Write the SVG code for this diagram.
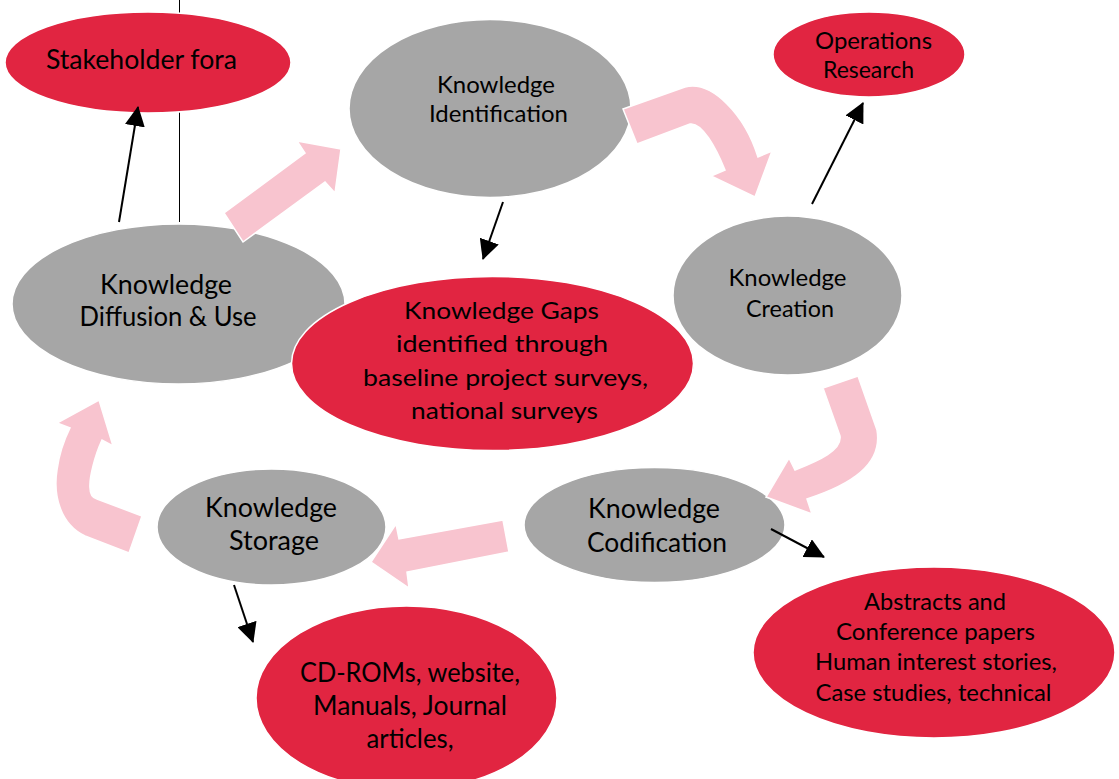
<svg xmlns="http://www.w3.org/2000/svg" width="1119" height="779" viewBox="0 0 1119 779">
  <style>
    .grey { fill: #a6a6a6; stroke: #ffffff; stroke-width: 1.5; }
    .red { fill: #e12541; stroke: #ffffff; stroke-width: 1.5; }
    .flow { fill: #f8c4cf; stroke: #ffffff; stroke-width: 1.5; stroke-linejoin: miter; }
    .link { stroke: #000000; stroke-width: 2; fill: none; marker-end: url(#head); }
    text { font-family: Lato, "Open Sans", "Liberation Sans", sans-serif; fill: #000000; text-anchor: middle; }
    .m { font-size: 24px; }
    .l { font-size: 26px; }
  </style>
  <defs>
    <marker id="head" markerUnits="userSpaceOnUse" markerWidth="20" markerHeight="20" refX="19" refY="10" orient="auto">
      <path d="M0,0 L20,10 L0,20 Z" fill="#000000"/>
    </marker>
  </defs>

  <!-- thin guide line behind the top-left nodes -->
  <line x1="179.5" y1="0" x2="179.5" y2="222" stroke="#000000" stroke-width="1"/>

  <g id="stakeholder-fora">
    <ellipse class="red" cx="148" cy="62.5" rx="143" ry="50.5"/>
    <text class="l" x="141.5" y="69" textLength="191" lengthAdjust="spacingAndGlyphs">Stakeholder fora</text>
  </g>

  <g id="knowledge-diffusion">
    <ellipse class="grey" cx="178.5" cy="304" rx="166.5" ry="80"/>
    <text class="l" x="166" y="294" textLength="132" lengthAdjust="spacingAndGlyphs">Knowledge</text>
    <text class="l" x="168" y="326" textLength="177" lengthAdjust="spacingAndGlyphs">Diffusion &amp; Use</text>
  </g>

  <g id="knowledge-identification">
    <ellipse class="grey" cx="490" cy="108.5" rx="141" ry="89"/>
    <text class="m" x="496" y="92.5" textLength="118" lengthAdjust="spacingAndGlyphs">Knowledge</text>
    <text class="m" x="498.5" y="121.5" textLength="139" lengthAdjust="spacingAndGlyphs">Identification</text>
  </g>

  <g id="operations-research">
    <ellipse class="red" cx="869" cy="54.5" rx="96" ry="42.5"/>
    <text class="m" x="873.5" y="49" textLength="117" lengthAdjust="spacingAndGlyphs">Operations</text>
    <text class="m" x="868.5" y="78" textLength="91" lengthAdjust="spacingAndGlyphs">Research</text>
  </g>

  <g id="knowledge-creation">
    <ellipse class="grey" cx="787.5" cy="295.5" rx="114.5" ry="79.5"/>
    <text class="m" x="787.5" y="286" textLength="118" lengthAdjust="spacingAndGlyphs">Knowledge</text>
    <text class="m" x="790" y="317" textLength="88" lengthAdjust="spacingAndGlyphs">Creation</text>
  </g>

  <g id="knowledge-gaps">
    <ellipse class="red" cx="492.5" cy="363.5" rx="201" ry="87"/>
    <text class="m" x="501.5" y="319" textLength="195" lengthAdjust="spacingAndGlyphs">Knowledge Gaps</text>
    <text class="m" x="502" y="352" textLength="212" lengthAdjust="spacingAndGlyphs">identified through</text>
    <text class="m" x="505.5" y="386" textLength="285" lengthAdjust="spacingAndGlyphs">baseline project surveys,</text>
    <text class="m" x="504.5" y="419" textLength="187" lengthAdjust="spacingAndGlyphs">national surveys</text>
  </g>

  <g id="knowledge-storage">
    <ellipse class="grey" cx="271.5" cy="527" rx="114.5" ry="58"/>
    <text class="l" x="271" y="517" textLength="132" lengthAdjust="spacingAndGlyphs">Knowledge</text>
    <text class="l" x="274" y="550" textLength="90" lengthAdjust="spacingAndGlyphs">Storage</text>
  </g>

  <g id="knowledge-codification">
    <ellipse class="grey" cx="654.5" cy="525" rx="130.5" ry="57.5"/>
    <text class="l" x="654" y="518" textLength="132" lengthAdjust="spacingAndGlyphs">Knowledge</text>
    <text class="l" x="657" y="552" textLength="140" lengthAdjust="spacingAndGlyphs">Codification</text>
  </g>

  <g id="storage-media">
    <ellipse class="red" cx="406.5" cy="698" rx="150.5" ry="92"/>
    <text class="l" x="410" y="682" textLength="220" lengthAdjust="spacingAndGlyphs">CD-ROMs, website,</text>
    <text class="l" x="410" y="715" textLength="194" lengthAdjust="spacingAndGlyphs">Manuals, Journal</text>
    <text class="l" x="410" y="748" textLength="87" lengthAdjust="spacingAndGlyphs">articles,</text>
  </g>

  <g id="codified-outputs">
    <ellipse class="red" cx="934" cy="652.5" rx="181" ry="85.5"/>
    <text class="m" x="935" y="610" textLength="142" lengthAdjust="spacingAndGlyphs">Abstracts and</text>
    <text class="m" x="935.5" y="640" textLength="199" lengthAdjust="spacingAndGlyphs">Conference papers</text>
    <text class="m" x="936" y="670" textLength="242" lengthAdjust="spacingAndGlyphs">Human interest stories,</text>
    <text class="m" x="933.5" y="701" textLength="236" lengthAdjust="spacingAndGlyphs">Case studies, technical</text>
  </g>

  <g id="connectors">
    <!-- cycle of knowledge stages -->
    <polygon class="flow" points="224,213 305,153 297,141 341,149 335,193 325,182 243,242"/>
    <path class="flow" d="M623,109 L685,87 C712,80 745,115 758,157 L772,151 L755,197 L711,176 L725,170 C716,148 702,122 690,124 L637,144 Z"/>
    <path class="flow" d="M823,388 L858,376 L877,430 C883,465 850,485 807,499 L812,514 L766,497 L789,458 L795,470 C820,460 842,450 840,436 Z"/>
    <polygon class="flow" points="503,520 399,539 396,524 371,562 409,588 407,572 509,552"/>
    <path class="flow" d="M142,516 L129,553 L85,536 C60,524 53,495 57,470 C59,455 64,440 70,428 L57,423 L99,400 L113,446 L102,440 C95,455 89,478 90,488 C90,495 93,498 97,499 Z"/>

    <!-- outputs of each stage -->
    <line class="link" x1="119" y1="222" x2="138" y2="107"/>
    <line class="link" x1="503" y1="202" x2="483" y2="259"/>
    <line class="link" x1="812" y1="204" x2="863" y2="103"/>
    <line class="link" x1="234" y1="585" x2="253" y2="642"/>
    <line class="link" x1="771" y1="529" x2="824" y2="557"/>
  </g>
</svg>
